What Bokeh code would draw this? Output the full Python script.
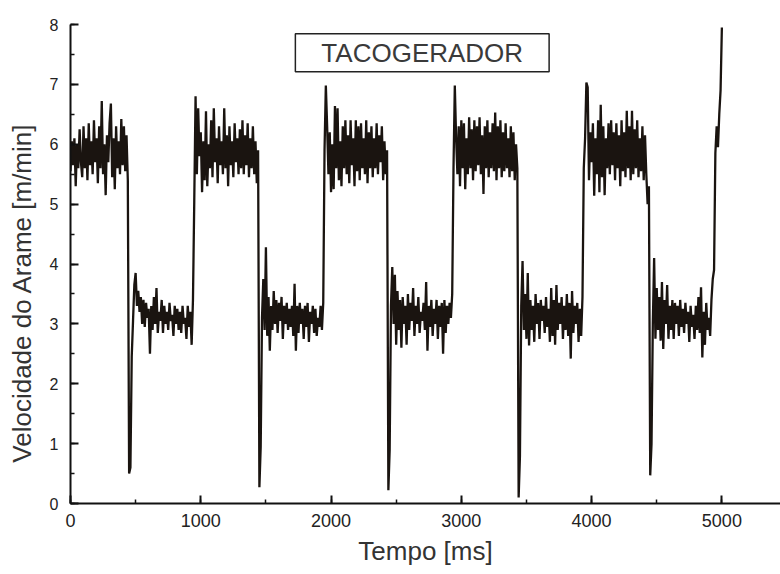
import numpy as np
from bokeh.plotting import figure
from bokeh.models import Range1d, SingleIntervalTicker, Label, ColumnDataSource
from bokeh.embed import file_html
from bokeh.resources import INLINE

# ---- data (10 ms samples per half-cycle) ----
seg_start = [0, 450, 950, 1450, 1950, 2440, 2940, 3440, 3940, 4450, 4950]
seg_end = [440, 940, 1440, 1940, 2430, 2930, 3430, 3930, 4440, 4940, 5000]

high1 = [5.55, 6.05, 5.65, 6.1, 5.3, 6.0, 5.6, 6.25, 5.7, 5.45, 6.3, 5.6, 6.1, 5.4, 6.35,
         5.65, 6.05, 5.5, 6.4, 5.7, 6.1, 5.35, 6.3, 5.6, 6.72, 5.5, 6.0, 5.15, 6.15, 5.7,
         6.35, 6.68, 5.45, 6.1, 5.25, 6.3, 5.6, 6.05, 5.5, 6.42, 5.65, 6.3, 5.55, 6.15, 5.4]
low1 = [0.5, 0.6, 2.45, 3.05, 3.65, 3.85, 3.3, 3.55, 3.2, 3.45, 3.0, 3.4, 2.95, 3.35, 3.1,
        3.25, 2.5, 3.3, 2.9, 3.45, 3.0, 3.6, 2.85, 3.2, 3.05, 3.4, 2.85, 3.3, 3.0, 3.2,
        2.9, 3.35, 3.05, 3.15, 2.8, 3.3, 3.0, 3.25, 2.9, 3.2, 2.85, 3.3, 3.0, 3.1, 2.75,
        3.3, 2.95, 3.2, 2.65, 3.4]
high2 = [5.05, 6.8, 5.5, 6.6, 5.8, 6.2, 5.2, 6.05, 5.4, 6.55, 5.3, 6.0, 5.6, 6.4, 5.45,
         6.6, 5.7, 6.1, 5.35, 6.3, 5.65, 6.05, 5.5, 6.6, 5.6, 6.15, 5.3, 6.3, 5.65, 6.05,
         5.45, 6.35, 5.7, 6.1, 5.5, 6.25, 5.6, 6.4, 5.5, 6.15, 5.65, 6.35, 5.45, 6.1, 5.6,
         6.3, 5.5, 6.05, 5.35, 5.9]
low2 = [0.27, 0.95, 3.1, 3.75, 2.9, 4.28, 2.8, 3.45, 2.55, 3.3, 2.9, 3.55, 3.0, 3.4, 2.85,
        3.35, 3.05, 3.45, 2.75, 3.3, 3.0, 3.35, 2.9, 3.25, 2.95, 3.3, 2.8, 3.67, 2.55, 3.3,
        2.85, 3.35, 3.0, 3.25, 2.75, 3.3, 2.95, 3.35, 2.7, 3.2, 3.0, 3.3, 2.85, 3.25, 2.8,
        3.1, 2.95, 3.3, 2.9, 3.35]
high3 = [5.9, 6.98, 6.3, 5.5, 6.2, 5.2, 6.0, 5.25, 6.64, 5.6, 6.6, 5.4, 6.05, 5.3, 6.3,
         5.6, 6.4, 5.5, 6.15, 5.35, 6.4, 5.65, 6.1, 5.3, 6.4, 5.55, 6.3, 5.4, 6.35, 5.6,
         6.1, 5.5, 6.4, 5.35, 6.2, 5.6, 6.3, 5.45, 6.1, 5.6, 6.35, 5.5, 6.15, 5.7, 6.3,
         5.4, 6.05, 5.5, 5.9]
low3 = [0.22, 0.9, 3.3, 3.95, 3.0, 3.82, 2.65, 3.55, 2.9, 3.4, 2.6, 3.45, 3.0, 3.3, 2.65,
        3.5, 2.9, 3.35, 3.05, 3.6, 2.8, 3.3, 3.0, 3.45, 2.85, 3.2, 3.05, 3.35, 2.9, 3.7,
        2.55, 3.3, 2.95, 3.4, 2.8, 3.25, 3.0, 3.4, 2.75, 3.3, 2.95, 3.35, 2.5, 3.4, 2.85,
        3.3, 3.0, 3.35, 3.1, 3.5]
high4 = [5.6, 6.98, 6.1, 5.5, 6.3, 5.3, 6.4, 5.6, 6.35, 5.25, 6.1, 5.5, 6.45, 5.6, 6.25,
         5.4, 6.4, 5.55, 6.3, 5.65, 6.45, 5.5, 6.15, 5.17, 6.3, 5.6, 6.4, 5.45, 6.2, 5.6,
         6.35, 5.55, 6.53, 5.4, 6.3, 5.6, 6.4, 5.45, 6.2, 5.55, 6.35, 5.6, 6.1, 5.45, 6.3,
         5.55, 6.2, 5.4, 6.0, 5.6]
low4 = [0.1, 0.8, 3.3, 4.05, 2.9, 3.5, 2.75, 3.85, 2.64, 3.4, 2.9, 3.3, 2.7, 3.5, 3.0,
        3.35, 2.75, 3.4, 3.05, 3.3, 2.85, 3.45, 2.95, 3.25, 2.7, 3.6, 2.8, 3.4, 2.65, 3.65,
        2.9, 3.35, 3.0, 3.45, 2.75, 3.3, 2.9, 3.5, 2.8, 3.35, 2.42, 3.55, 2.85, 3.3, 3.0,
        3.35, 2.7, 3.25, 2.8, 3.45]
high5 = [5.6, 6.1, 7.03, 6.95, 5.4, 6.2, 5.7, 6.35, 5.14, 6.1, 5.5, 6.4, 5.2, 6.66, 5.45,
         6.3, 5.15, 6.1, 5.6, 6.35, 5.5, 6.4, 5.65, 6.2, 5.4, 6.35, 5.6, 6.15, 5.3, 6.4,
         5.55, 6.2, 5.45, 6.56, 5.6, 6.3, 5.4, 6.56, 5.5, 6.25, 5.6, 6.4, 5.45, 6.1, 5.55,
         6.3, 5.4, 6.15, 5.5, 5.0, 5.3]
low5 = [0.47, 1.0, 3.0, 4.1, 2.75, 3.6, 2.9, 3.45, 2.72, 3.7, 2.58, 3.4, 3.0, 3.65, 2.75,
        3.3, 2.9, 3.4, 2.75, 3.35, 3.0, 3.3, 2.8, 3.4, 2.95, 3.25, 2.85, 3.35, 3.0, 3.2,
        2.7, 3.3, 2.95, 3.15, 2.75, 3.3, 2.9, 3.45, 2.85, 3.61, 2.44, 3.2, 2.65, 3.35, 2.9,
        3.1, 2.8, 3.4, 3.75, 3.9]
high6 = [5.85, 6.3, 5.95, 6.5, 6.9, 7.95]

segments = [high1, low1, high2, low2, high3, low3, high4, low4, high5, low5, high6]

xs, ys = [], []
for s, e, vals in zip(seg_start, seg_end, segments):
    xs.extend(np.linspace(s, e, len(vals)).tolist())
    ys.extend(vals)

source = ColumnDataSource(data=dict(t=xs, v=ys))

# ---- figure ----
p = figure(width=780, height=574, output_backend="svg", toolbar_location=None,
           x_range=Range1d(0, 5450), y_range=Range1d(0, 8),
           min_border_left=70, min_border_right=0, min_border_top=24, min_border_bottom=71)
p.outline_line_color = None
p.xgrid.visible = False
p.ygrid.visible = False
p.background_fill_color = "white"
p.border_fill_color = "white"

p.line("t", "v", source=source, line_color="#1a1410", line_width=2.3)

p.xaxis.ticker = SingleIntervalTicker(interval=1000, num_minor_ticks=2)
p.yaxis.ticker = SingleIntervalTicker(interval=1, num_minor_ticks=2)

for ax in (p.xaxis, p.yaxis):
    ax.axis_line_color = "#111111"
    ax.axis_line_width = 2
    ax.major_tick_line_color = "#111111"
    ax.major_tick_line_width = 2
    ax.minor_tick_line_color = "#111111"
    ax.minor_tick_line_width = 1.5
    ax.major_tick_in = 8
    ax.major_tick_out = 0
    ax.minor_tick_in = 4
    ax.minor_tick_out = 0
    ax.major_label_text_font = "Liberation Sans"
    ax.major_label_text_color = "#222222"
    ax.axis_label_text_font = "Liberation Sans"
    ax.axis_label_text_font_style = "normal"
    ax.axis_label_text_color = "#333333"
    ax.axis_label_text_font_size = "26px"

p.xaxis.major_label_text_font_size = "18px"
p.yaxis.major_label_text_font_size = "16px"
p.xaxis.major_label_standoff = 10
p.yaxis.major_label_standoff = 12
p.xaxis.axis_label = "Tempo [ms]"
p.xaxis.axis_label_standoff = 6
# trailing no-break spaces push the title a little below the axis centre, as in the original
p.yaxis.axis_label = "Velocidade do Arame [m/min]" + "\u00a0" * 8
p.yaxis.axis_label_standoff = 10

title = Label(x=2700, y=7.53, text="TACOGERADOR", text_align="center",
              text_baseline="middle", text_font="Liberation Sans", text_font_size="26px",
              text_color="#3a3a3a", border_line_color="#222222", border_line_width=1.5,
              background_fill_color="white", padding=(26, 4))
p.add_layout(title)

open("out.html", "w").write(file_html(p, INLINE))
